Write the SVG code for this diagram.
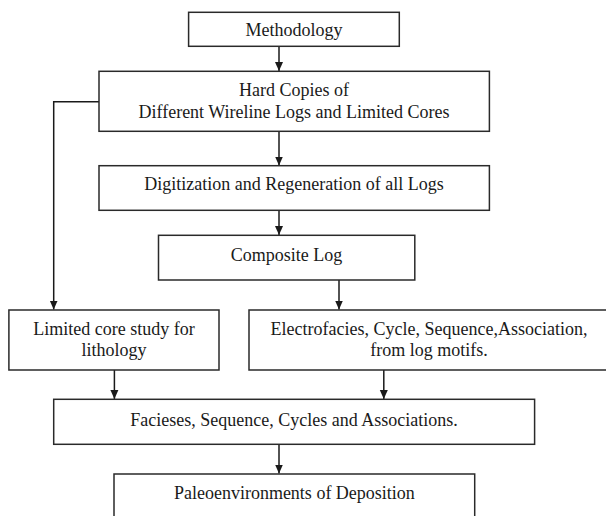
<svg xmlns="http://www.w3.org/2000/svg" width="606" height="516" viewBox="0 0 606 516">
<style>
.box{fill:#fff;stroke:#2a2a2a;stroke-width:1.5}
.t{font-family:'Liberation Serif','DejaVu Serif',serif;font-size:18px;fill:#1a1a1a;text-anchor:middle}
.c{fill:none;stroke:#1a1a1a;stroke-width:1.5}
</style>
<defs>
<marker id="ah" markerWidth="10" markerHeight="10" refX="9" refY="5" orient="auto" markerUnits="userSpaceOnUse">
<path d="M0,1 L9,5 L0,9 Z" fill="#1a1a1a"/>
</marker>
</defs>
<rect width="606" height="516" fill="#fff"/>
<g id="connectors">
<line class="c" x1="279" y1="46.3" x2="279" y2="71" marker-end="url(#ah)"/>
<line class="c" x1="279" y1="131.3" x2="279" y2="165.5" marker-end="url(#ah)"/>
<line class="c" x1="279" y1="210.3" x2="279" y2="235" marker-end="url(#ah)"/>
<line class="c" x1="339" y1="280" x2="339" y2="309.5" marker-end="url(#ah)"/>
<polyline class="c" points="99,101.7 53.7,101.7 53.7,309.5" marker-end="url(#ah)"/>
<line class="c" x1="114.4" y1="370" x2="114.4" y2="399" marker-end="url(#ah)"/>
<line class="c" x1="383.8" y1="370" x2="383.8" y2="399" marker-end="url(#ah)"/>
<line class="c" x1="279" y1="444.3" x2="279" y2="473.5" marker-end="url(#ah)"/>
</g>
<g id="methodology">
<rect class="box" x="188.6" y="12.3" width="210.7" height="34"/>
<text class="t" x="294" y="36">Methodology</text>
</g>
<g id="hardcopies">
<rect class="box" x="99" y="71.3" width="390.4" height="60"/>
<text class="t" x="294" y="95.5">Hard Copies of</text>
<text class="t" x="294" y="118">Different Wireline Logs and Limited Cores</text>
</g>
<g id="digitization">
<rect class="box" x="99" y="165.7" width="390.4" height="44.6"/>
<text class="t" x="294" y="190">Digitization and Regeneration of all Logs</text>
</g>
<g id="composite">
<rect class="box" x="158.5" y="235.3" width="256.3" height="44.7"/>
<text class="t" x="286.6" y="260.5">Composite Log</text>
</g>
<g id="limitedcore">
<rect class="box" x="8.9" y="310" width="210.1" height="60"/>
<text class="t" x="114" y="335">Limited core study for</text>
<text class="t" x="114" y="355.5">lithology</text>
</g>
<g id="electrofacies">
<rect class="box" x="249" y="310" width="365" height="60"/>
<text class="t" x="429" y="335">Electrofacies, Cycle, Sequence,Association,</text>
<text class="t" x="429" y="355.5">from log motifs.</text>
</g>
<g id="facieses">
<rect class="box" x="53.7" y="399.3" width="480.9" height="45"/>
<text class="t" x="294" y="426">Facieses, Sequence, Cycles and  Associations.</text>
</g>
<g id="paleo">
<rect class="box" x="114" y="474" width="360.7" height="60"/>
<text class="t" x="294.4" y="499">Paleoenvironments of Deposition</text>
</g>
</svg>
